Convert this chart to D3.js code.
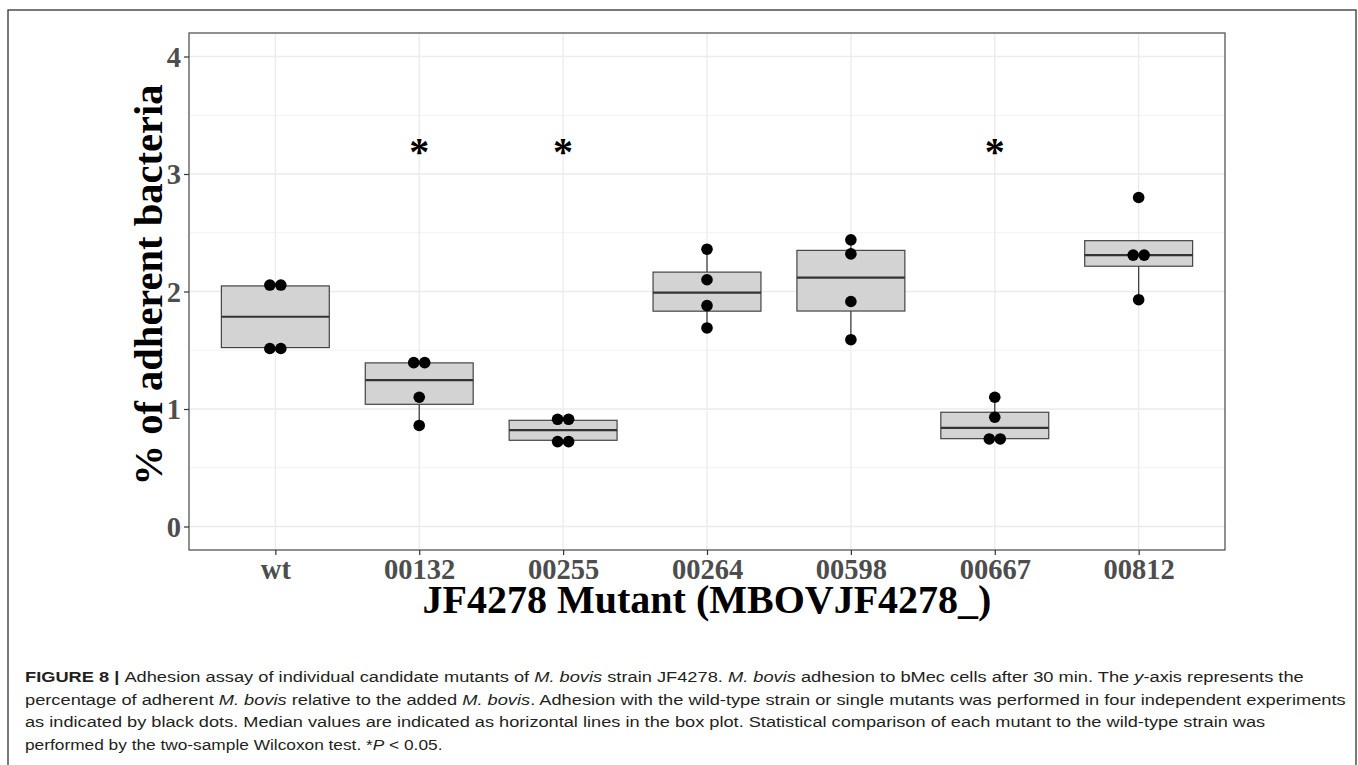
<!DOCTYPE html>
<html>
<head>
<meta charset="utf-8">
<script src="https://cdn.jsdelivr.net/npm/d3@7"></script>
<style>
  body { margin: 0; background: #fff; }
  svg { display: block; }
</style>
</head>
<body>
<div id="chart"></div>
<script>
// categories (MBOVJF4278_ mutants) and the four independent experiments
const mutants = ["wt", "00132", "00255", "00264", "00598", "00667", "00812"];
const exp1 = [1.50, 0.86, 0.70, 1.69, 1.59, 0.74, 1.93];
const exp2 = [1.53, 1.10, 0.745, 1.88, 1.915, 0.75, 2.31];
const exp3 = [2.04, 1.39, 0.895, 2.10, 2.32, 0.93, 2.31];
const exp4 = [2.07, 1.40, 0.93, 2.36, 2.44, 1.10, 2.80];
const significant = ["00132", "00255", "00667"];
const starLevel = 3.24;
const yTicks = [0, 1, 2, 3, 4];
const yMinor = [0.5, 1.5, 2.5, 3.5];

const captionLines = [
    [["b", "FIGURE 8 | "], ["", "Adhesion assay of individual candidate mutants of "], ["i", "M. bovis"], ["", " strain JF4278. "], ["i", "M. bovis"], ["", " adhesion to bMec cells after 30 min. The "], ["i", "y"], ["", "-axis represents the"]],
    [["", "percentage of adherent "], ["i", "M. bovis"], ["", " relative to the added "], ["i", "M. bovis"], ["", ". Adhesion with the wild-type strain or single mutants was performed in four independent experiments"]],
    [["", "as indicated by black dots. Median values are indicated as horizontal lines in the box plot. Statistical comparison of each mutant to the wild-type strain was"]],
    [["", "performed by the two-sample Wilcoxon test. *"], ["i", "P"], ["", " < 0.05."]]
];
const captionWidths = [1280, 1322, 1241, 418];

const width = 1358, height = 765;
const panel = { left: 189, right: 1225, top: 33, bottom: 550 };
const serif = "'Liberation Serif', 'Times New Roman', serif";

const svg = d3.select("#chart").append("svg")
    .attr("width", width)
    .attr("height", height);

// outer figure frame
svg.append("rect")
    .attr("x", 8).attr("y", 10)
    .attr("width", 1348).attr("height", 780)
    .attr("fill", "none")
    .attr("stroke", "#333")
    .attr("stroke-width", 1.3);

const x = d3.scalePoint()
    .domain(mutants)
    .range([panel.left, panel.right])
    .padding(0.6);

const y = d3.scaleLinear()
    .domain([-0.2, 4.2])
    .range([panel.bottom, panel.top]);

// build per-mutant stats (R type 7 quantiles, same as d3.quantile)
let groups = mutants.map((m, i) => {
    let vals = [exp1[i], exp2[i], exp3[i], exp4[i]].sort(d3.ascending);
    let q1 = d3.quantile(vals, 0.25);
    let med = d3.quantile(vals, 0.5);
    let q3 = d3.quantile(vals, 0.75);
    let iqr = q3 - q1;
    let lo = d3.min(vals.filter(v => v >= q1 - 1.5 * iqr));
    let hi = d3.max(vals.filter(v => v <= q3 + 1.5 * iqr));
    return { mutant: m, vals, q1, med, q3, lo, hi };
});

// grid
let grid = svg.append("g");
grid.selectAll(".minor").data(yMinor).join("line")
    .attr("x1", panel.left).attr("x2", panel.right)
    .attr("y1", d => y(d)).attr("y2", d => y(d))
    .attr("stroke", "#f2f2f2").attr("stroke-width", 1);
grid.selectAll(".major").data(yTicks).join("line")
    .attr("x1", panel.left).attr("x2", panel.right)
    .attr("y1", d => y(d)).attr("y2", d => y(d))
    .attr("stroke", "#ebebeb").attr("stroke-width", 1.3);
grid.selectAll(".vert").data(mutants).join("line")
    .attr("x1", d => x(d)).attr("x2", d => x(d))
    .attr("y1", panel.top).attr("y2", panel.bottom)
    .attr("stroke", "#ebebeb").attr("stroke-width", 1.3);

const boxW = x.step() * 0.75;
let boxes = svg.append("g").selectAll("g").data(groups).join("g");

// whiskers
boxes.append("line")
    .attr("x1", d => x(d.mutant)).attr("x2", d => x(d.mutant))
    .attr("y1", d => y(d.q3)).attr("y2", d => y(d.hi))
    .attr("stroke", "#333").attr("stroke-width", 1.2);
boxes.append("line")
    .attr("x1", d => x(d.mutant)).attr("x2", d => x(d.mutant))
    .attr("y1", d => y(d.q1)).attr("y2", d => y(d.lo))
    .attr("stroke", "#333").attr("stroke-width", 1.2);

boxes.append("rect")
    .attr("x", d => x(d.mutant) - boxW / 2)
    .attr("width", boxW)
    .attr("y", d => y(d.q3))
    .attr("height", d => y(d.q1) - y(d.q3))
    .attr("fill", "#d3d3d3")
    .attr("stroke", "#444")
    .attr("stroke-width", 1.2);

boxes.append("line")
    .attr("x1", d => x(d.mutant) - boxW / 2).attr("x2", d => x(d.mutant) + boxW / 2)
    .attr("y1", d => y(d.med)).attr("y2", d => y(d.med))
    .attr("stroke", "#333").attr("stroke-width", 2.2);

// dots: values closer than 0.05 share a bin and sit side by side
let dots = [];
groups.forEach(g => {
    let bins = [];
    g.vals.forEach(v => {
        let last = bins[bins.length - 1];
        if (last && v - last[0] < 0.05) last.push(v);
        else bins.push([v]);
    });
    bins.forEach(b => {
        let c = d3.mean(b);
        b.forEach((v, k) => dots.push({ mutant: g.mutant, value: c, off: (k - (b.length - 1) / 2) * 11 }));
    });
});

svg.append("g").selectAll("circle").data(dots).join("circle")
    .attr("cx", d => x(d.mutant) + d.off)
    .attr("cy", d => y(d.value))
    .attr("r", 5.8)
    .attr("fill", "#000");

// significance stars
const starSize = 40;
svg.append("g").selectAll("text").data(significant).join("text")
    .attr("x", d => x(d))
    .attr("y", d => y(starLevel) + starSize * 0.47)
    .attr("text-anchor", "middle")
    .style("font-family", serif)
    .style("font-weight", "bold")
    .style("font-size", starSize + "px")
    .text("*");

// panel border
svg.append("rect")
    .attr("x", panel.left).attr("y", panel.top)
    .attr("width", panel.right - panel.left)
    .attr("height", panel.bottom - panel.top)
    .attr("fill", "none")
    .attr("stroke", "#555")
    .attr("stroke-width", 1.3);

// axes
let yAxis = svg.append("g")
    .attr("transform", `translate(${panel.left},0)`)
    .call(d3.axisLeft(y).tickValues(yTicks).tickFormat(d3.format("d")).tickSize(5).tickPadding(3));
let xAxis = svg.append("g")
    .attr("transform", `translate(0,${panel.bottom})`)
    .call(d3.axisBottom(x).tickSize(5).tickPadding(4));

[yAxis, xAxis].forEach(a => {
    a.select(".domain").remove();
    a.selectAll(".tick line").attr("stroke", "#333").attr("stroke-width", 1.2);
    a.selectAll(".tick text")
        .attr("fill", "#4d4d4d")
        .style("font-family", serif)
        .style("font-weight", "bold")
        .style("font-size", "28.5px");
});
yAxis.selectAll(".tick text").attr("dy", "0.34em");
xAxis.selectAll(".tick text").attr("dy", "0.71em");

// axis titles
svg.append("text")
    .attr("transform", "translate(162,285) rotate(-90)")
    .attr("text-anchor", "middle")
    .style("font-family", serif)
    .style("font-weight", "bold")
    .style("font-size", "40.5px")
    .text("% of adherent bacteria");

svg.append("text")
    .attr("x", (panel.left + panel.right) / 2)
    .attr("y", 613)
    .attr("text-anchor", "middle")
    .style("font-family", serif)
    .style("font-weight", "bold")
    .style("font-size", "40px")
    .text("JF4278 Mutant (MBOVJF4278_)");

// caption, each line stretched to the width measured on the figure
captionLines.forEach((line, i) => {
    let g = svg.append("g").attr("transform", `translate(25,${682 + i * 22.6})`);
    let t = g.append("text")
        .attr("fill", "#231f20")
        .style("font-family", "'Liberation Sans Narrow', 'Liberation Sans', Arial, sans-serif")
        .style("font-size", "15.5px");
    line.forEach(([style, str]) => {
        t.append("tspan")
            .style("font-weight", style === "b" ? "bold" : "normal")
            .style("font-style", style === "i" ? "italic" : "normal")
            .text(str);
    });
    let w = t.node().getComputedTextLength();
    g.attr("transform", `translate(25,${682 + i * 22.6}) scale(${captionWidths[i] / w},1)`);
});
</script>
</body>
</html>
